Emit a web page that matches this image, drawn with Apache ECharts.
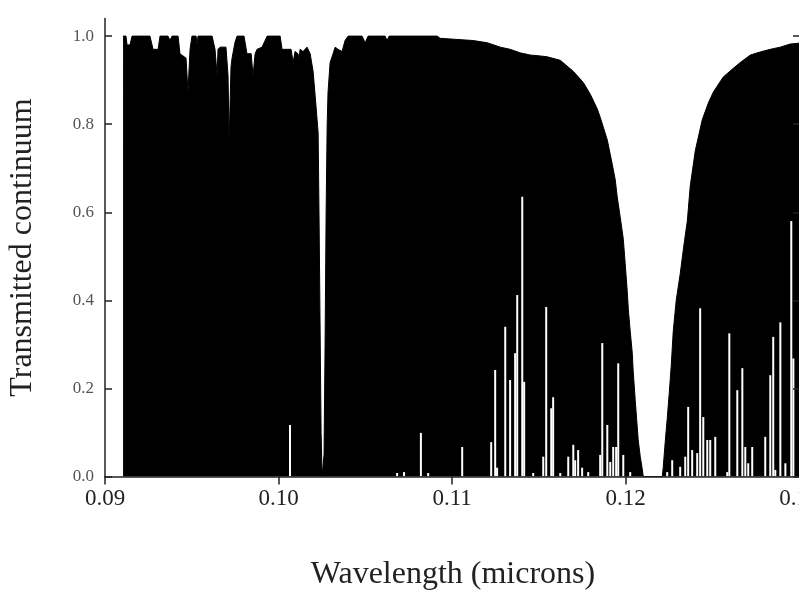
<!DOCTYPE html>
<html>
<head>
<meta charset="utf-8">
<script src="https://cdn.jsdelivr.net/npm/echarts@6/dist/echarts.min.js"></script>
<style>
  html, body { margin: 0; padding: 0; background: #fff; }
  #chart { width: 799px; height: 592px; }
</style>
</head>
<body>
<div id="chart"></div>
<script>
// Upper envelope of the transmitted continuum (wavelength in microns)
const envWave = [
  0.09104, 0.09110, 0.09121, 0.09127, 0.09144, 0.09156, 0.09259, 0.09277, 0.09306, 0.09317,
  0.09363, 0.09375, 0.09386, 0.09421, 0.09432, 0.09467, 0.09478, 0.09490, 0.09501, 0.09525,
  0.09530, 0.09536, 0.09617, 0.09634, 0.09646, 0.09651, 0.09663, 0.09697, 0.09709, 0.09715,
  0.09726, 0.09732, 0.09749, 0.09761, 0.09801, 0.09818, 0.09842, 0.09853, 0.09865, 0.09876,
  0.09905, 0.09934, 0.10009, 0.10020, 0.10072, 0.10084, 0.10095, 0.10112, 0.10118, 0.10124,
  0.10141, 0.10164, 0.10182, 0.10199, 0.10216, 0.10228, 0.10233, 0.10239, 0.10245, 0.10251,
  0.10257, 0.10262, 0.10268, 0.10274, 0.10280, 0.10285, 0.10297, 0.10314, 0.10326, 0.10343,
  0.10366, 0.10383, 0.10401, 0.10481, 0.10499, 0.10516, 0.10614, 0.10625, 0.10637, 0.10914,
  0.10931, 0.11121, 0.11202, 0.11277, 0.11334, 0.11392, 0.11450, 0.11507, 0.11548, 0.11623,
  0.11698, 0.11755, 0.11796, 0.11836, 0.11853, 0.11894, 0.11922, 0.11940, 0.11951, 0.11968,
  0.11986, 0.11997, 0.12009, 0.12015, 0.12026, 0.12038, 0.12043, 0.12055, 0.12066, 0.12072,
  0.12084, 0.12095, 0.12101, 0.12211, 0.12216, 0.12228, 0.12239, 0.12251, 0.12262, 0.12274,
  0.12291, 0.12314, 0.12337, 0.12355, 0.12372, 0.12401, 0.12441, 0.12476, 0.12505, 0.12562,
  0.12620, 0.12660, 0.12718, 0.12775, 0.12833, 0.12891, 0.12948, 0.13000, 0.13010
];
const envTrans = [
  1.00, 1.00, 1.00, 0.98, 0.98, 1.00, 1.00, 0.97, 0.97, 1.00,
  1.00, 0.99, 1.00, 1.00, 0.96, 0.95, 0.873, 0.97, 1.00, 1.00,
  0.98, 1.00, 1.00, 0.97, 0.91, 0.97, 0.975, 0.975, 0.91, 0.76,
  0.93, 0.95, 0.986, 1.00, 1.00, 0.96, 0.96, 0.91, 0.96, 0.97,
  0.975, 1.00, 1.00, 0.97, 0.97, 0.94, 0.965, 0.96, 0.948, 0.97,
  0.965, 0.975, 0.96, 0.92, 0.84, 0.78, 0.60, 0.35, 0.10, 0.00,
  0.00, 0.05, 0.30, 0.60, 0.80, 0.873, 0.94, 0.96, 0.975, 0.97,
  0.965, 0.99, 1.00, 1.00, 0.985, 1.00, 1.00, 0.99, 1.00, 1.00,
  0.995, 0.99, 0.985, 0.975, 0.97, 0.962, 0.957, 0.955, 0.953, 0.945,
  0.92, 0.895, 0.868, 0.835, 0.816, 0.764, 0.71, 0.673, 0.635, 0.59,
  0.54, 0.484, 0.42, 0.38, 0.33, 0.28, 0.24, 0.173, 0.115, 0.083,
  0.045, 0.018, 0.00, 0.00, 0.02, 0.08, 0.13, 0.19, 0.25, 0.33,
  0.40, 0.46, 0.53, 0.58, 0.66, 0.74, 0.81, 0.848, 0.873, 0.907,
  0.927, 0.94, 0.957, 0.964, 0.97, 0.975, 0.982, 0.984, 0.985
];

// Narrow windows of transmission between forest lines: minimum transmission reached there
const slitWave = [
  0.10066, 0.10683, 0.10723, 0.10820, 0.10862, 0.11058, 0.11225, 0.11248, 0.11259, 0.11306,
  0.11334, 0.11363, 0.11375, 0.11404, 0.11415, 0.11467, 0.11525, 0.11542, 0.11571, 0.11582,
  0.11623, 0.11669, 0.11698, 0.11709, 0.11726, 0.11749, 0.11784, 0.11853, 0.11865, 0.11894,
  0.11911, 0.11928, 0.11945, 0.11957, 0.11986, 0.12026, 0.12239, 0.12268, 0.12314, 0.12343,
  0.12360, 0.12383, 0.12412, 0.12429, 0.12447, 0.12470, 0.12487, 0.12516, 0.12585, 0.12597,
  0.12643, 0.12672, 0.12689, 0.12706, 0.12729, 0.12804, 0.12833, 0.12850, 0.12862, 0.12891,
  0.12920, 0.12954, 0.12966
];
const slitTop = [
  0.117, 0.008, 0.010, 0.099, 0.008, 0.067, 0.078, 0.242, 0.020, 0.340,
  0.219, 0.280, 0.412, 0.635, 0.215, 0.008, 0.045, 0.385, 0.155, 0.180,
  0.008, 0.045, 0.072, 0.037, 0.060, 0.020, 0.010, 0.049, 0.303, 0.117,
  0.033, 0.067, 0.067, 0.257, 0.049, 0.010, 0.010, 0.037, 0.022, 0.045,
  0.158, 0.060, 0.053, 0.382, 0.135, 0.083, 0.083, 0.090, 0.010, 0.325,
  0.196, 0.246, 0.067, 0.030, 0.067, 0.090, 0.230, 0.317, 0.015, 0.350,
  0.030, 0.580, 0.268
];

const xTicks = [0.09, 0.10, 0.11, 0.12, 0.13];
const yTicks = [0.0, 0.2, 0.4, 0.6, 0.8, 1.0];

const serif = 'Liberation Serif';
const ink = '#222';

const chart = echarts.init(document.getElementById('chart'), null, { renderer: 'canvas' });

chart.setOption({
  animation: false,
  backgroundColor: '#fff',
  grid: {
    left: 105, right: -2, top: 18.5, bottom: 115.5,
    containLabel: false,
    outerBoundsMode: 'none'
  },
  xAxis: {
    type: 'value',
    min: 0.09,
    max: 0.1301,
    z: 10,
    axisLine: { show: true, onZero: false, lineStyle: { color: ink, width: 1.5 } },
    axisTick: { show: true, inside: false, length: 8, customValues: xTicks, lineStyle: { color: ink, width: 1.5 } },
    axisLabel: {
      customValues: xTicks,
      formatter: v => v.toFixed(2),
      margin: 11,
      fontSize: 23,
      fontFamily: serif,
      color: ink,
      hideOverlap: false
    },
    splitLine: { show: false },
    name: 'Wavelength (microns)',
    nameLocation: 'middle',
    nameGap: 82,
    nameTextStyle: { fontSize: 32, fontFamily: serif, color: ink }
  },
  yAxis: [
    {
      type: 'value',
      position: 'left',
      min: 0,
      max: 1.04,
      z: 10,
      axisLine: { show: true, onZero: false, lineStyle: { color: ink, width: 1.5 } },
      axisTick: { show: true, inside: true, length: 7, customValues: yTicks, lineStyle: { color: ink, width: 1.5 } },
      axisLabel: {
        customValues: yTicks,
        formatter: v => v.toFixed(1),
        margin: 11,
        fontSize: 17,
        fontFamily: serif,
        color: '#555'
      },
      splitLine: { show: false },
      name: 'Transmitted continuum',
      nameLocation: 'middle',
      nameGap: 66,
      nameTextStyle: { fontSize: 32, fontFamily: serif, color: ink }
    },
    {
      type: 'value',
      position: 'right',
      min: 0,
      max: 1.04,
      z: 10,
      axisLine: { show: true, onZero: false, lineStyle: { color: ink, width: 1.5 } },
      axisTick: { show: true, inside: true, length: 8, customValues: yTicks, lineStyle: { color: ink, width: 1.5 } },
      axisLabel: { show: false },
      splitLine: { show: false }
    }
  ],
  series: [
    {
      name: 'envelope',
      type: 'line',
      data: envWave.map((w, i) => [w, envTrans[i]]),
      symbol: 'none',
      sampling: null,
      lineStyle: { color: '#000', width: 1 },
      areaStyle: { color: '#000', opacity: 1 },
      z: 2
    },
    {
      name: 'windows',
      type: 'bar',
      data: slitWave.map((w, i) => [w, slitTop[i]]),
      barWidth: 2,
      itemStyle: { color: '#fff' },
      z: 3
    }
  ]
});
</script>
</body>
</html>
